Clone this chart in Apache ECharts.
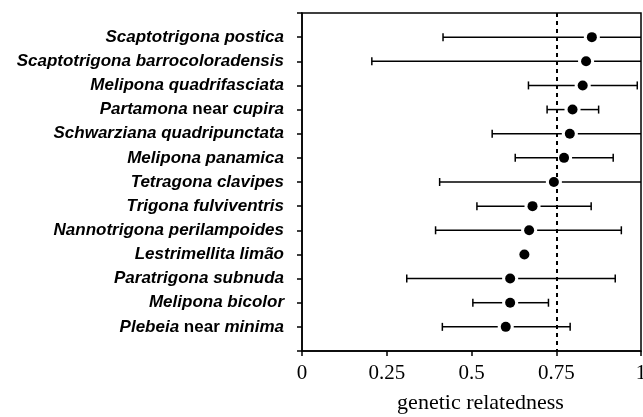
<!DOCTYPE html>
<html>
<head>
<meta charset="utf-8">
<script src="https://cdn.jsdelivr.net/npm/echarts@6/dist/echarts.min.js"></script>
<style>html,body{margin:0;padding:0;background:#fff;}#chart{width:643px;height:417px;}</style>
</head>
<body>
<div id="chart"></div>
<script>
// Species (top to bottom)
var species = [
  "Scaptotrigona postica",
  "Scaptotrigona barrocoloradensis",
  "Melipona quadrifasciata",
  "Partamona near cupira",
  "Schwarziana quadripunctata",
  "Melipona panamica",
  "Tetragona clavipes",
  "Trigona fulviventris",
  "Nannotrigona perilampoides",
  "Lestrimellita limão",
  "Paratrigona subnuda",
  "Melipona bicolor",
  "Plebeia near minima"
];
// mean genetic relatedness
var meanValues = [0.855, 0.838, 0.828, 0.798, 0.790, 0.773, 0.743, 0.680, 0.670, 0.656, 0.614, 0.614, 0.601];
// lower / upper bounds (null = no interval shown; >1 runs off the plot)
var lowerValues = [0.416, 0.206, 0.668, 0.723, 0.561, 0.629, 0.406, 0.516, 0.394, null, 0.309, 0.504, 0.414];
var upperValues = [1.15, 1.15, 0.989, 0.875, 1.15, 0.918, 1.15, 0.853, 0.942, null, 0.924, 0.727, 0.791];
var xTicks = ["0", "0.25", "0.5", "0.75", "1"];
var referenceLine = 0.75;
var axisTitle = "genetic relatedness";

function fmtName(s) {
  return s.split(' ').map(function (w) {
    return w === 'near' ? '{n|' + w + '}' : '{i|' + w + '}';
  }).join('{n| }');
}

var dots = meanValues.map(function (v, i) { return [v, i + 1]; });
var bars = [];
meanValues.forEach(function (v, i) {
  if (lowerValues[i] != null) bars.push([lowerValues[i], upperValues[i], v, i + 1]);
});

var chart = echarts.init(document.getElementById('chart'));
chart.setOption({
  animation: false,
  backgroundColor: '#fff',
  grid: { left: 302, right: 2, top: 13, bottom: 66, show: true, borderColor: '#000', borderWidth: 1.5,
          containLabel: false, outerBoundsMode: 'none' },
  xAxis: {
    type: 'value', min: 0, max: 1, interval: 0.25,
    name: axisTitle, nameLocation: 'middle', nameGap: 41,
    nameTextStyle: { fontFamily: 'Liberation Serif', fontSize: 22, color: '#000', padding: [0, 0, 0, 18] },
    axisLine: { show: true, onZero: false, lineStyle: { color: '#000', width: 1.5 } },
    axisTick: { show: true, length: 5, lineStyle: { color: '#000', width: 1.5 } },
    axisLabel: {
      fontFamily: 'Liberation Serif', fontSize: 21, color: '#000', margin: 12,
      formatter: function (v) { return xTicks[Math.round(v / 0.25)]; }
    },
    splitLine: { show: false }
  },
  yAxis: {
    type: 'value', min: 0, max: 14, interval: 1, inverse: true,
    axisLine: { show: true, onZero: false, lineStyle: { color: '#000', width: 1.5 } },
    axisTick: { show: true, length: 5, lineStyle: { color: '#000', width: 1.5 } },
    axisLabel: {
      margin: 18, color: '#000',
      formatter: function (v) {
        var i = Math.round(v) - 1;
        return (i >= 0 && i < species.length) ? fmtName(species[i]) : '';
      },
      rich: {
        i: { fontFamily: 'Liberation Sans', fontSize: 17, fontWeight: 'bold', fontStyle: 'italic', color: '#000' },
        n: { fontFamily: 'Liberation Sans', fontSize: 17, fontWeight: 'bold', fontStyle: 'normal', color: '#000' }
      }
    },
    splitLine: { show: false }
  },
  series: [
    {
      type: 'custom',
      clip: true,
      data: bars,
      renderItem: function (params, api) {
        var lo = api.coord([api.value(0), api.value(3)]);
        var hi = api.coord([api.value(1), api.value(3)]);
        var c = api.coord([api.value(2), api.value(3)]);
        var y = c[1], gap = 8, h = 4;
        var st = { stroke: '#000', lineWidth: 1.5 };
        return {
          type: 'group',
          children: [
            { type: 'line', shape: { x1: lo[0], y1: y, x2: c[0] - gap, y2: y }, style: st },
            { type: 'line', shape: { x1: c[0] + gap, y1: y, x2: hi[0], y2: y }, style: st },
            { type: 'line', shape: { x1: lo[0], y1: y - h, x2: lo[0], y2: y + h }, style: st },
            { type: 'line', shape: { x1: hi[0], y1: y - h, x2: hi[0], y2: y + h }, style: st }
          ]
        };
      },
      z: 2
    },
    {
      type: 'scatter',
      data: dots,
      symbol: 'circle',
      symbolSize: 10,
      itemStyle: { color: '#000', opacity: 1 },
      z: 3,
      markLine: {
        silent: true, symbol: 'none', label: { show: false },
        lineStyle: { color: '#000', width: 2, type: [4, 4] },
        data: [{ xAxis: referenceLine }]
      }
    }
  ]
});
</script>
</body>
</html>
